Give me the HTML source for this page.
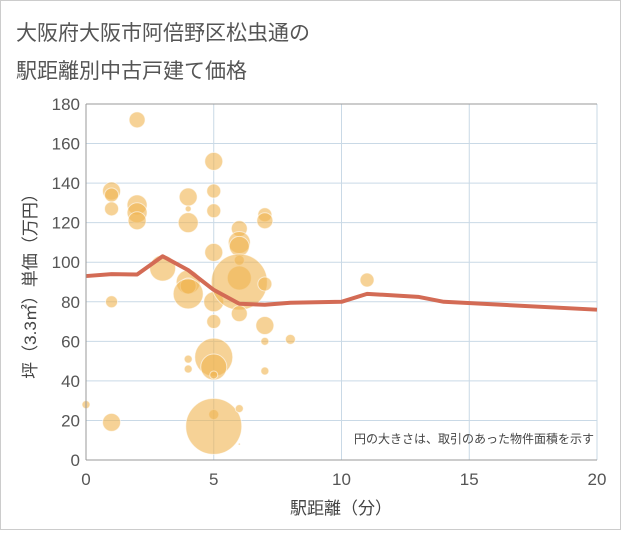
<!DOCTYPE html>
<html><head><meta charset="utf-8"><style>
body{margin:0;background:#fff;}
.w{width:621px;height:530px;position:relative;font-family:"Liberation Sans","Noto Sans CJK JP",sans-serif;}
</style></head><body>
<div class="w">
<svg id="c" width="621" height="530">
<rect x="0.5" y="0.5" width="620" height="529" fill="#fff" stroke="#ccc"/>
<text x="16" y="40" font-size="21" fill="#555" font-family="Liberation Sans, Noto Sans CJK JP, sans-serif">大阪府大阪市阿倍野区松虫通の</text>
<text x="16" y="78" font-size="21" fill="#555" font-family="Liberation Sans, Noto Sans CJK JP, sans-serif">駅距離別中古戸建て価格</text>
<g id="grid"></g><g id="marks"></g><g id="axes"></g>
<text x="594" y="443" font-size="12" fill="#444" text-anchor="end" font-family="Liberation Sans, Noto Sans CJK JP, sans-serif">円の大きさは、取引のあった物件面積を示す</text>
<text x="341" y="514" font-size="17" fill="#444" text-anchor="middle" font-family="Liberation Sans, Noto Sans CJK JP, sans-serif">駅距離（分）</text>
<text transform="translate(36,282) rotate(-90)" font-size="17" fill="#444" text-anchor="middle" font-family="Liberation Sans, Noto Sans CJK JP, sans-serif">坪（3.3㎡）単価（万円）</text>
</svg></div>
<script>
const xTicks=[0,5,10,15,20];
const yTicks=[0,20,40,60,80,100,120,140,160,180];
const bubbleX=[0,1,1,1,1,1,2,2,2,2,3,4,4,4,4,4,4,4,4,5,5,5,5,5,5,5,5,5,5,5,6,6,6,6,6,6,6,6,6,7,7,7,7,7,7,8,11];
const bubbleY=[28,136,134,127,80,19,172,129,125,121,97,133,127,120,90,88,84,51,46,151,136,126,105,80,70,52,47,43,23,17,117,110,108,101,92,90,74,26,8,124,121,89,68,60,45,61,91];
const bubbleR=[4,9,7,7,6,9,8,10,10,9,13,9,3,10,12,8,15,4,4,9,7,7,9,10,7,19,13,4,5,28,8,11,10,5,12,28,8,4,1,7,8,7,9,4,4,5,7];
const lineX=[0,1,2,3,4,5,6,7,8,10,11,13,14,20];
const lineY=[93,94,93.8,103,96,86,79,78.5,79.5,80,84,82.5,80,76];
const X0=86,X1=597,Y0=460,Y1=104;
const sx=v=>X0+(X1-X0)*v/20, sy=v=>Y0-(Y0-Y1)*v/180;
const NS="http://www.w3.org/2000/svg";
function mk(p,t,a){const e=document.createElementNS(NS,t);for(const k in a)e.setAttribute(k,a[k]);p.appendChild(e);return e;}
const g=document.getElementById('grid'),m=document.getElementById('marks'),ax=document.getElementById('axes');
yTicks.forEach(v=>{if(v>0){const l=mk(g,'line',{x1:X0,x2:X1,y1:sy(v),y2:sy(v),stroke:'#c9d9e6','stroke-width':1});

}
const t=mk(ax,'text',{x:X0-6,y:sy(v)+6,'text-anchor':'end','font-size':17,fill:'#555','font-family':'Liberation Sans,sans-serif'});t.textContent=v;

});
xTicks.forEach(v=>{if(v>0){const l=mk(g,'line',{x1:sx(v),x2:sx(v),y1:Y1,y2:Y0,stroke:'#c9d9e6','stroke-width':1});

}
const t=mk(ax,'text',{x:sx(v),y:Y0+25,'text-anchor':'middle','font-size':17,fill:'#555','font-family':'Liberation Sans,sans-serif'});t.textContent=v;

});
bubbleX.forEach((x,i)=>{const c=mk(m,'circle',{cx:sx(x),cy:sy(bubbleY[i]),r:bubbleR[i],fill:'rgba(240,180,80,0.6)',stroke:'rgba(255,255,255,0.6)','stroke-width':1});

});
const pl=mk(m,'polyline',{points:lineX.map((x,i)=>sx(x)+','+sy(lineY[i])).join(' '),fill:'none',stroke:'#d36b55','stroke-width':4,'stroke-linejoin':'round'});


const a1=mk(ax,'line',{x1:X0,x2:X0,y1:Y1,y2:Y0,stroke:'#999'});


const a2=mk(ax,'line',{x1:X0,x2:X1,y1:Y0,y2:Y0,stroke:'#999'});


const a3=mk(ax,'line',{x1:X0,x2:X1,y1:Y1,y2:Y1,stroke:'#999'});


</script></body></html>
